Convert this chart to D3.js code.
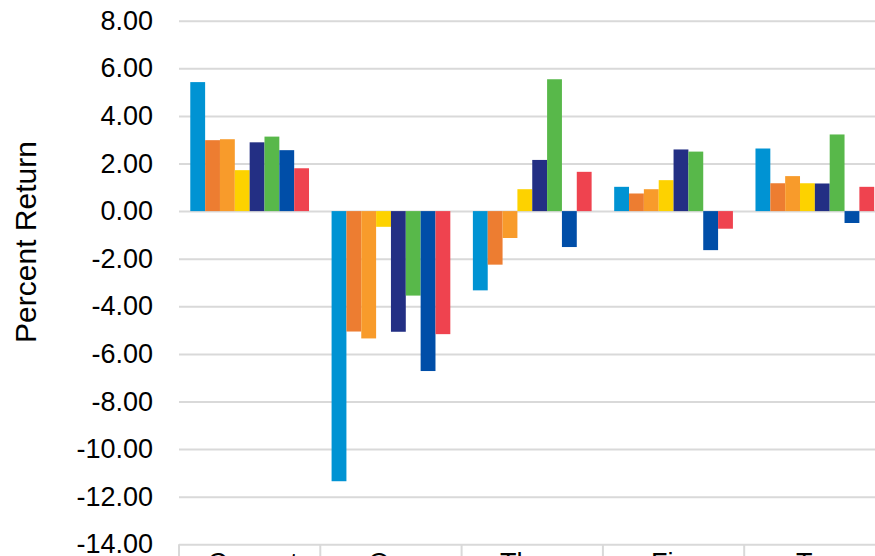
<!DOCTYPE html>
<html>
<head>
<meta charset="utf-8">
<script src="https://cdn.jsdelivr.net/npm/d3@7"></script>
<style>
  html, body { margin: 0; padding: 0; background: #fff; overflow: hidden; }
  svg { display: block; font-family: "Liberation Sans", Arial, sans-serif; }
</style>
</head>
<body>
<svg id="chart" width="875" height="556"></svg>
<script>
// ---- data ----
const categories = [["Current", "Quarter"], ["One", "Year"], ["Three", "Years"], ["Five", "Years"], ["Ten", "Years"]];
const seriesNames = ["Series 1", "Series 2", "Series 3", "Series 4", "Series 5", "Series 6", "Series 7", "Series 8"];
const seriesColors = ["#0093D3", "#ED7D31", "#F89B2B", "#FDD200", "#232F84", "#58B84A", "#004EA8", "#EF434F"];
const series1 = [5.42, -11.35, -3.33, 1.02, 2.63];
const series2 = [2.98, -5.06, -2.25, 0.74, 1.17];
const series3 = [3.02, -5.35, -1.13, 0.92, 1.47];
const series4 = [1.72, -0.66, 0.92, 1.30, 1.17];
const series5 = [2.89, -5.07, 2.15, 2.59, 1.16];
const series6 = [3.13, -3.55, 5.54, 2.50, 3.22];
const series7 = [2.56, -6.72, -1.51, -1.64, -0.50];
const series8 = [1.80, -5.17, 1.65, -0.74, 1.02];
const yTicks = [-14, -12, -10, -8, -6, -4, -2, 0, 2, 4, 6, 8];
const yTitle = "Percent Return";

const allSeries = [series1, series2, series3, series4, series5, series6, series7, series8];

// ---- layout ----
const svg = d3.select("#chart");
const plotLeft = 179, plotRight = 885.5, plotTop = 20.7, plotBottom = 544.3;
const gridColor = "#d9d9d9";
const fontSize = 27;

const x0 = d3.scaleBand().domain(d3.range(categories.length)).range([plotLeft, plotRight]).padding(0);
const x1 = d3.scaleBand().domain(d3.range(seriesNames.length)).range([0, x0.bandwidth()])
  .paddingInner(0).paddingOuter(0.76);
const y = d3.scaleLinear().domain([-14, 8]).range([plotBottom, plotTop]);

// gridlines
const grid = svg.append("g").attr("transform", `translate(${plotLeft},0)`)
  .call(d3.axisLeft(y).tickValues(yTicks).tickSize(-(875 - plotLeft + 20)).tickFormat(""));
grid.select(".domain").remove();
grid.selectAll("line").attr("stroke", gridColor).attr("stroke-width", 2);

// y tick labels
const yAxis = svg.append("g").attr("transform", `translate(${plotLeft},0)`)
  .call(d3.axisLeft(y).tickValues(yTicks).tickSize(0).tickPadding(26).tickFormat(v => v.toFixed(2)));
yAxis.select(".domain").remove();
yAxis.selectAll("text").attr("font-size", fontSize).attr("fill", "#000")
  .attr("font-family", "'Liberation Sans', Arial, sans-serif");

// category separators (x axis)
const seps = d3.range(categories.length + 1).map(i => i < categories.length ? x0(i) : x0(i - 1) + x0.bandwidth());
svg.append("g").selectAll("line").data(seps).join("line")
  .attr("x1", d => d).attr("x2", d => d)
  .attr("y1", plotBottom).attr("y2", 620)
  .attr("stroke", gridColor).attr("stroke-width", 2);

// bars
const groups = svg.append("g").selectAll("g").data(categories).join("g")
  .attr("transform", (d, i) => `translate(${x0(i)},0)`);
groups.selectAll("rect")
  .data((d, ci) => allSeries.map((s, si) => ({ si, v: s[ci] })))
  .join("rect")
  .attr("x", d => x1(d.si))
  .attr("width", x1.bandwidth())
  .attr("y", d => y(Math.max(0, d.v)))
  .attr("height", d => Math.abs(y(d.v) - y(0)))
  .attr("fill", d => seriesColors[d.si]);

// category labels
const lab = svg.append("g").selectAll("text").data(categories).join("text")
  .attr("text-anchor", "middle")
  .attr("font-size", fontSize)
  .attr("fill", "#000")
  .attr("x", (d, i) => x0(i) + x0.bandwidth() / 2 + 3)
  .attr("y", 572);
lab.selectAll("tspan").data(d => d).join("tspan")
  .attr("x", function () { return d3.select(this.parentNode).attr("x"); })
  .attr("dy", (d, i) => i === 0 ? 0 : "1.2em")
  .text(d => d);

// y axis title
svg.append("text")
  .attr("transform", `translate(36,242) rotate(-90)`)
  .attr("text-anchor", "middle")
  .attr("font-size", 30)
  .attr("fill", "#000")
  .text(yTitle);
</script>
</body>
</html>
